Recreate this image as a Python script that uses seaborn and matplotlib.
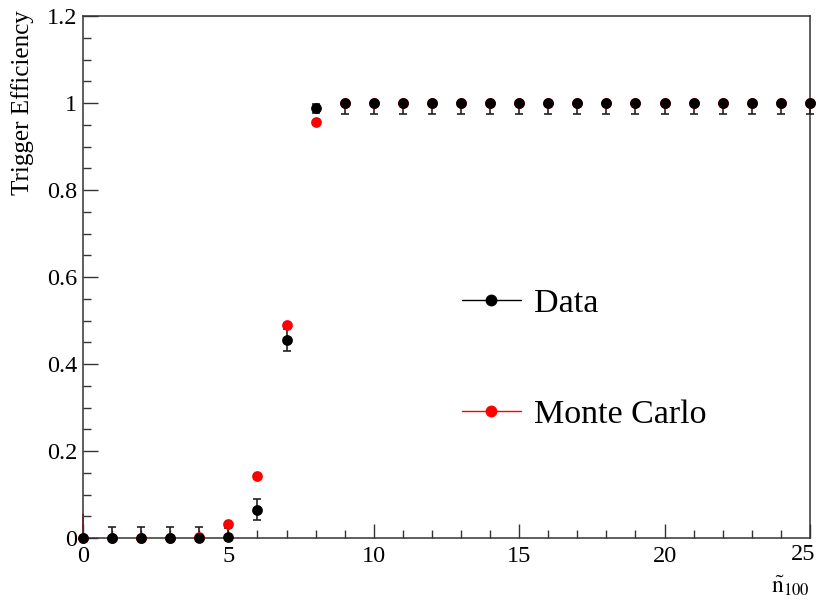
import numpy as np
import pandas as pd
import matplotlib
matplotlib.use("Agg")
import matplotlib.pyplot as plt
import seaborn as sns
from matplotlib.lines import Line2D
from matplotlib.ticker import MultipleLocator

# Valores
n100 = list(range(26))
data_eff = [0.0, 0.0, 0.0, 0.0, 0.0, 0.003, 0.064, 0.455, 0.988] + [1.0] * 17
data_lo = [0.0, 0.0, 0.0, 0.0, 0.0, 0.003, 0.022, 0.026, 0.012] + [0.025] * 17
data_hi = [0.0, 0.025, 0.025, 0.025, 0.025, 0.02, 0.026, 0.026, 0.010] + [0.0] * 17
mc_eff = [0.0, 0.0, 0.0, 0.0, 0.002, 0.033, 0.142, 0.490, 0.956] + [1.0] * 17
mc_hi = [0.055] + [0.0] * 25

x_ticks = [0, 5, 10, 15, 20, 25]
y_ticks = [0, 0.2, 0.4, 0.6, 0.8, 1.0, 1.2]
y_ticklabels = ["0", "0.2", "0.4", "0.6", "0.8", "1", "1.2"]

df = pd.DataFrame({"n": n100 * 2,
                   "eff": data_eff + mc_eff,
                   "serie": ["Data"] * 26 + ["Monte Carlo"] * 26})

sns.set_style("ticks")
plt.rcParams["font.family"] = ["Liberation Serif", "DejaVu Serif"]
plt.rcParams["mathtext.fontset"] = "stix"
plt.rcParams["text.color"] = "black"
plt.rcParams["axes.labelcolor"] = "black"
plt.rcParams["xtick.labelcolor"] = "black"
plt.rcParams["ytick.labelcolor"] = "black"

fig = plt.figure(figsize=(8.19, 6.0), dpi=100)
ax = fig.add_axes([0.1013, 0.1033, 0.8876, 0.870])

# barras de error
ax.errorbar(n100, mc_eff, yerr=[[0] * 26, mc_hi], fmt="none", ecolor="red",
            elinewidth=1.2, capsize=0, zorder=2, clip_on=False)
ax.errorbar(n100, data_eff, yerr=[data_lo, data_hi], fmt="none", ecolor="#222222",
            elinewidth=1.2, capsize=3, capthick=1.2, zorder=3, clip_on=False)

sns.scatterplot(data=df[df.serie == "Monte Carlo"], x="n", y="eff", color="red",
                s=60, edgecolor="red", linewidth=0, ax=ax, zorder=4, legend=False,
                clip_on=False)
sns.scatterplot(data=df[df.serie == "Data"], x="n", y="eff", color="black",
                s=60, edgecolor="black", linewidth=0, ax=ax, zorder=5, legend=False,
                clip_on=False)

ax.set_xlim(0, 25)
ax.set_ylim(0, 1.2)
# la ultima etiqueta ("25") se pone aparte, corrida un poco para que no se corte
ax.set_xticks(x_ticks, [str(t) for t in x_ticks[:-1]] + [""])
ax.xaxis.set_minor_locator(MultipleLocator(1))
ax.set_yticks(y_ticks, y_ticklabels)
ax.yaxis.set_minor_locator(MultipleLocator(0.05))
ax.tick_params(which="major", direction="in", length=11, width=1, color="#333333",
               labelsize=17.5, pad=4, labelcolor="black")
ax.tick_params(which="minor", direction="in", length=6, width=1, color="#333333")
ax.tick_params(axis="x", which="major", length=10, pad=6)
for sp in ax.spines.values():
    sp.set_linewidth(1.1)
    sp.set_color("#333333")

ax.annotate(str(x_ticks[-1]), xy=(x_ticks[-1], 0), xycoords=("data", "axes fraction"),
            xytext=(-5, -4.3), textcoords="offset points", ha="center", va="top",
            fontsize=17.5, color="black")

ax.set_xlabel(r"$\tilde{\mathrm{n}}_{100}$", fontsize=17, loc="right", labelpad=4)
ax.set_ylabel("Trigger Efficiency", fontsize=18, loc="top")
ax.yaxis.set_label_coords(-0.068, 1.012, transform=ax.transAxes)
ax.yaxis.label.set_horizontalalignment("right")

handles = [Line2D([0], [0], color="black", marker="o", markersize=7.5, lw=1),
           Line2D([0], [0], color="red", marker="o", markersize=7.5, lw=1)]
ax.legend(handles, ["Data", "Monte Carlo"], loc="center left",
          bbox_to_anchor=(0.521, 0.343), frameon=False, fontsize=24.5,
          labelspacing=2.35, handlelength=1.75, handletextpad=0.38,
          borderpad=0, borderaxespad=0, labelcolor="black")

fig.savefig("out.png", dpi=100)
